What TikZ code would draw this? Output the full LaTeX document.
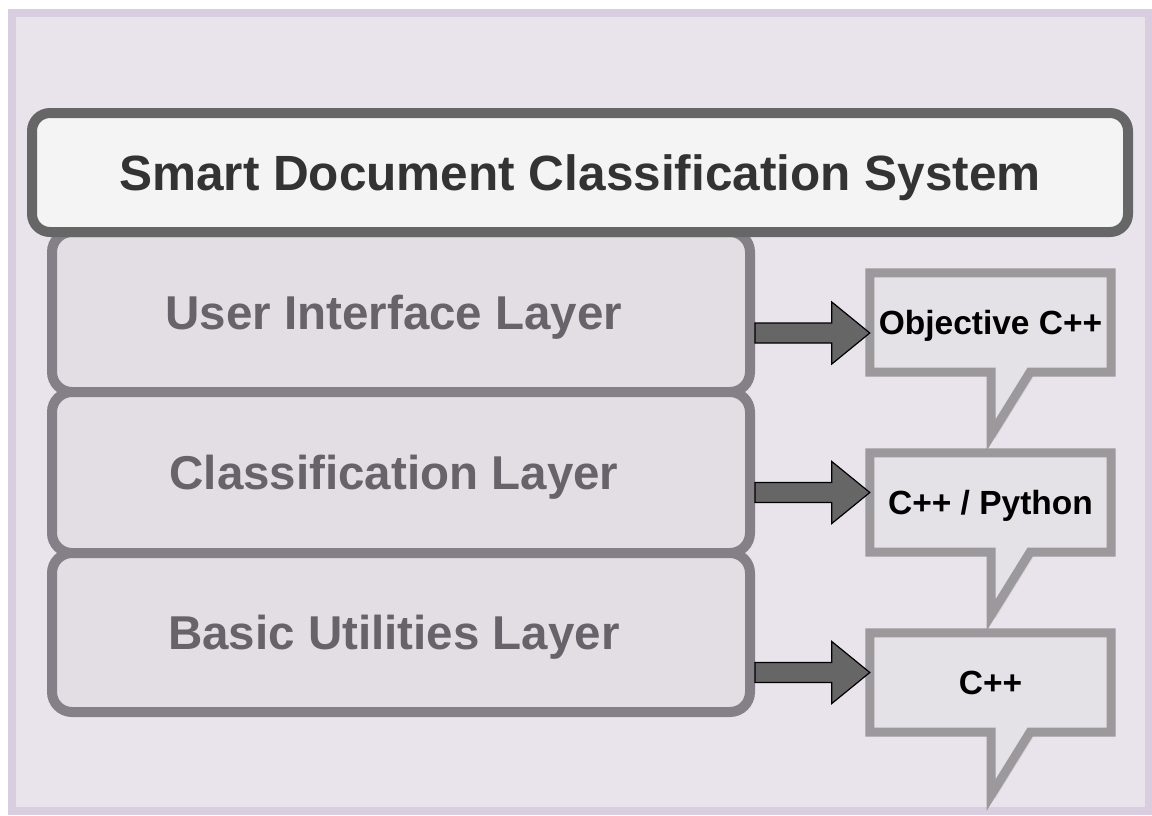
\documentclass[tikz,border=0pt]{standalone}
\usepackage{fontspec}
\setmainfont{Liberation Sans}
\usetikzlibrary{calc}

\definecolor{framefill}{HTML}{E9E4EB}
\definecolor{frameline}{HTML}{D9CDE0}
\definecolor{titlefill}{HTML}{F4F4F4}
\definecolor{titleline}{HTML}{666666}
\definecolor{titletext}{HTML}{333333}
\definecolor{layerfill}{HTML}{E2DEE4}
\definecolor{layerline}{HTML}{858087}
\definecolor{layertext}{HTML}{68636B}
\definecolor{calloutfill}{HTML}{E4E2E6}
\definecolor{calloutline}{HTML}{9B999C}
\definecolor{arrowfill}{HTML}{666666}

\tikzset{
  titlebox/.style={draw=titleline, fill=titlefill, line width=10pt,
    rounded corners=18pt, minimum width=1096pt, minimum height=119pt,
    inner sep=0pt, text=titletext, text height=35.4pt, text depth=0pt,
    font=\fontsize{49.5}{58}\selectfont\bfseries},
  layerbox/.style={draw=layerline, fill=layerfill, line width=10pt,
    rounded corners=20pt, minimum width=698pt, inner sep=0pt,
    text=layertext, text height=34pt, text depth=0pt,
    font=\fontsize{47.5}{56}\selectfont\bfseries},
  calloutnode/.style={minimum width=241pt, minimum height=99pt,
    inner sep=0pt, text=black, text height=24pt, text depth=0pt,
    font=\fontsize{33.5}{40}\selectfont\bfseries},
  calloutshape/.style={draw=calloutline, fill=calloutfill, line width=9pt,
    line join=miter},
  calloutshadow/.style={fill=black, fill opacity=0.07},
  fatarrowstyle/.style={fill=arrowfill, draw=black, line width=1.2pt,
    line join=miter}
}

% speech-bubble outline around a text node: pointer hangs below its left half
\newcommand{\bubbleoutline}[2]{%
  ($(#1.north west)+#2$) -- ($(#1.north east)+#2$) -- ($(#1.south east)+#2$)
  -- ($(#1.south)+(39.5,0)+#2$) -- ($(#1.south)+(0.5,63)+#2$)
  -- ($(#1.south)+(0.5,0)+#2$) -- ($(#1.south west)+#2$) -- cycle}

% block arrow from #1 to #2 (shaft 20, head 62 high, head 38 long)
\newcommand{\fatarrow}[2]{%
  \path[fatarrowstyle] ($(#1)+(0,-10)$) -- ($(#2)+(-38,-10)$)
    -- ($(#2)+(-38,-31)$) -- (#2) -- ($(#2)+(-38,31)$)
    -- ($(#2)+(-38,10)$) -- ($(#1)+(0,10)$) -- cycle;}

\begin{document}
\begin{tikzpicture}[x=1pt,y=-1pt]
  \useasboundingbox (0,0) rectangle (1152,815);
  \fill[white] (0,0) rectangle (1152,815);

  % outer frame
  \draw[draw=frameline, fill=framefill, line width=8pt] (12,12.5) rectangle (1148.5,811);

  % stacked layers
  \node[layerbox, minimum height=160pt] (ui)   at (401,312)   {User Interface Layer\hspace*{14pt}};
  \node[layerbox, minimum height=161pt] (cls)  at (401,472.5) {Classification Layer\hspace*{14pt}};
  \node[layerbox, minimum height=159pt] (util) at (401,632.5) {Basic Utilities Layer\hspace*{14pt}};

  % system title on top
  \node[titlebox] (title) at (580,172.5) {Smart Document Classification System};

  % language callouts
  \node[calloutnode] (co1) at (990.5,322.5) {};
  \node[calloutnode] (co2) at (990.5,502.5) {};
  \node[calloutnode] (co3) at (990.5,682.5) {};
  \foreach \c in {co1,co2,co3}{
    \path[calloutshadow] \bubbleoutline{\c}{(4,4)};
    \path[calloutshape]  \bubbleoutline{\c}{(0,0)};
  }
  \node[calloutnode] at (co1) {Objective C++};
  \node[calloutnode] at (co2) {C++ / Python};
  \node[calloutnode] at (co3) {C++};

  % arrows from each layer to its language
  \coordinate (e1) at ($(co1.west)+(0,10.5)$);
  \coordinate (e2) at ($(co2.west)+(0,-10)$);
  \coordinate (e3) at ($(co3.west)+(0,-10)$);
  \coordinate (s1) at (ui.east |- e1);
  \coordinate (s2) at (cls.east |- e2);
  \coordinate (s3) at (util.east |- e3);
  \fatarrow{s1}{e1}
  \fatarrow{s2}{e2}
  \fatarrow{s3}{e3}
\end{tikzpicture}
\end{document}
